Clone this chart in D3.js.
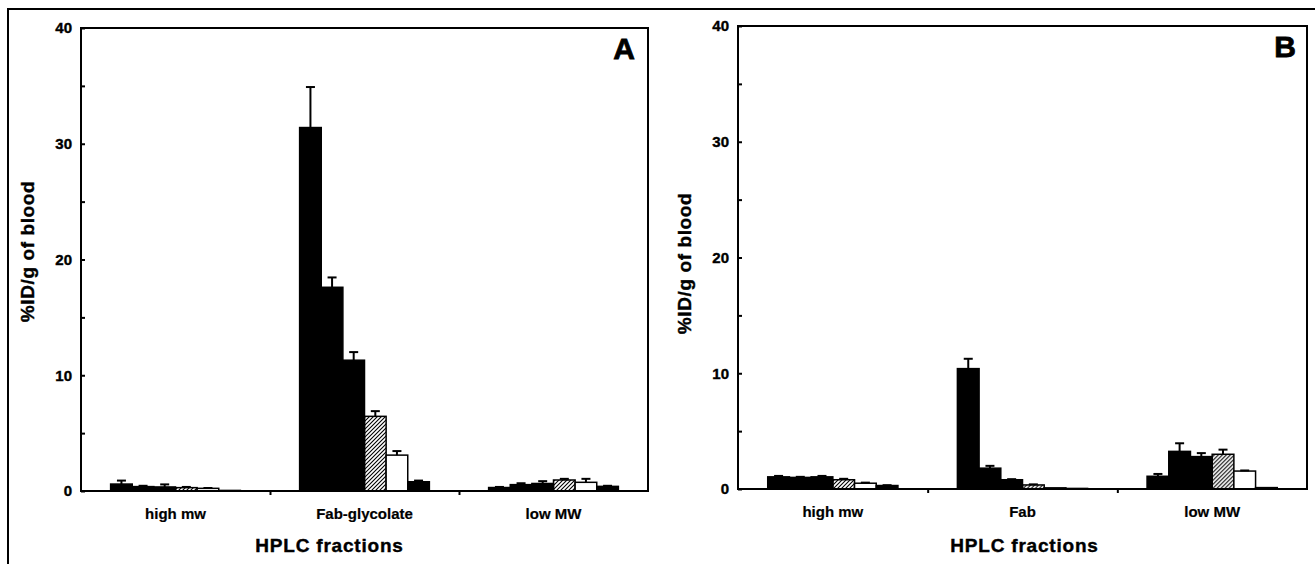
<!DOCTYPE html>
<meta charset="utf-8">
<style>
body { margin: 0; background: #fff; }
svg text { font-family: "Liberation Sans", Arial, sans-serif; fill: #000; stroke: #000; stroke-width: 0.4px; }
.axis path, .axis line { fill: none; stroke: #000; stroke-width: 2px; }
.frame { fill: none; stroke: #000; stroke-width: 2px; }
.bar { stroke: #000; stroke-width: 1.5px; }
.err { stroke: #000; stroke-width: 2px; }
</style>
<body>
<div id="chart"></div>
<script src="https://d3js.org/d3.v7.min.js"></script>
<script>

// six time points per fraction; fill style follows the original print
var series     = ["t1", "t2", "t3", "t4", "t5", "t6"];
var seriesFill = ["black", "black", "black", "hatch", "white", "black"];
var yTicks     = [0, 5, 10, 15, 20, 25, 30, 35, 40];

// panel A
var categoriesA = ["high mw", "Fab-glycolate", "low MW"];
var valuesA = [
  [0.6, 0.38, 0.35, 0.29, 0.23, 0.05],
  [31.4, 17.6, 11.3, 6.45, 3.1, 0.8],
  [0.3, 0.55, 0.65, 0.95, 0.75, 0.4]
];
var errorsA = [
  [0.3, 0.07, 0.22, 0.06, 0.03, 0],
  [3.5, 0.85, 0.7, 0.45, 0.35, 0.1],
  [0.05, 0.12, 0.2, 0.1, 0.3, 0.05]
];

// panel B
var categoriesB = ["high mw", "Fab", "low MW"];
var valuesB = [
  [1.05, 1.0, 1.05, 0.8, 0.5, 0.3],
  [10.4, 1.8, 0.8, 0.35, 0.1, 0.05],
  [1.1, 3.25, 2.8, 3.0, 1.55, 0.12]
];
var errorsB = [
  [0.08, 0.05, 0.08, 0.08, 0.05, 0.03],
  [0.85, 0.2, 0.05, 0.05, 0, 0],
  [0.2, 0.7, 0.3, 0.4, 0.05, 0]
];

var svg = d3.select("#chart").append("svg")
    .attr("width", 1315)
    .attr("height", 564);

svg.append("defs").append("pattern")
    .attr("id", "hatch")
    .attr("patternUnits", "userSpaceOnUse")
    .attr("width", 4).attr("height", 4)
  .append("path")
    .attr("d", "M-1,1 l2,-2 M0,4 l4,-4 M3,5 l2,-2")
    .attr("stroke", "#000")
    .attr("stroke-width", 1.1);

// outer figure border (top and left only)
svg.append("path")
    .attr("class", "frame")
    .attr("d", "M8,564 V9 H1315");

function drawPanel(p) {
  var g = svg.append("g");

  var x0 = d3.scaleBand()
      .domain(p.categories)
      .range([p.left, p.right])
      .padding(0);

  var x1 = d3.scaleBand()
      .domain(series)
      .range([0, x0.bandwidth()])
      .paddingInner(0)
      .paddingOuter(1.37);

  var y = d3.scaleLinear()
      .domain([0, 40])
      .range([p.bottom, p.top]);

  // bars
  p.categories.forEach(function(cat, ci) {
    var grp = g.append("g").attr("transform", "translate(" + x0(cat) + ",0)");

    grp.selectAll(".bar")
        .data(p.values[ci])
        .enter().append("rect")
        .attr("class", "bar")
        .attr("x", (d, i) => x1(series[i]))
        .attr("y", d => y(d))
        .attr("width", x1.bandwidth())
        .attr("height", d => y(0) - y(d))
        .attr("fill", (d, i) => seriesFill[i] == "hatch" ? "url(#hatch)" : seriesFill[i]);

    // error bars (upper only)
    p.values[ci].forEach(function(v, i) {
      var e = p.errors[ci][i];
      if (!e) return;
      var cx = x1(series[i]) + x1.bandwidth() / 2;
      grp.append("line").attr("class", "err")
          .attr("x1", cx).attr("x2", cx)
          .attr("y1", y(v)).attr("y2", y(v + e));
      grp.append("line").attr("class", "err")
          .attr("x1", cx - 4.5).attr("x2", cx + 4.5)
          .attr("y1", y(v + e)).attr("y2", y(v + e));
    });
  });

  // plot frame
  g.append("rect")
      .attr("class", "frame")
      .attr("x", p.left).attr("y", p.top)
      .attr("width", p.right - p.left)
      .attr("height", p.bottom - p.top);

  // y axis, ticks pointing inward
  g.append("g")
      .attr("class", "axis")
      .attr("transform", "translate(" + p.left + ",0)")
      .call(d3.axisLeft(y)
          .tickValues(yTicks)
          .tickSize(-4)
          .tickPadding(9)
          .tickFormat(d => d % 10 ? "" : d))
      .call(a => a.select(".domain").remove())
      .selectAll("text")
      .style("font-size", "15px")
      .style("font-weight", "bold");

  // category labels
  g.append("g")
      .attr("class", "axis")
      .attr("transform", "translate(0," + p.bottom + ")")
      .call(d3.axisBottom(x0).tickSize(0).tickPadding(17))
      .call(a => a.select(".domain").remove())
      .selectAll("text")
      .style("font-size", "15px")
      .style("font-weight", "bold")
      .style("stroke-width", "0.2px");

  // small ticks between fractions
  var xb = d3.scaleLinear().domain([0, 3]).range([p.left, p.right]);
  g.append("g")
      .attr("class", "axis")
      .attr("transform", "translate(0," + p.bottom + ")")
      .call(d3.axisBottom(xb).tickValues([1, 2]).tickSize(4).tickFormat(""))
      .call(a => a.select(".domain").remove());

  // axis titles
  g.append("text")
      .attr("transform", "translate(" + (p.left - 47) + "," + ((p.top + p.bottom) / 2 + p.yTitleShift) + ") rotate(-90)")
      .attr("text-anchor", "middle")
      .style("font-size", "19px")
      .style("font-weight", "bold")
      .style("letter-spacing", "0.6px")
      .text("%ID/g of blood");

  g.append("text")
      .attr("x", (p.left + p.right) / 2 + p.xTitleShift)
      .attr("y", 552)
      .attr("text-anchor", "middle")
      .style("font-size", "19px")
      .style("font-weight", "bold")
      .style("letter-spacing", "0.8px")
      .text("HPLC fractions");

  // panel letter
  g.append("text")
      .attr("x", p.right - p.letterInset)
      .attr("y", p.top + 31)
      .attr("text-anchor", "end")
      .style("font-size", "30px")
      .style("font-weight", "bold")
      .style("stroke-width", "0.8px")
      .text(p.letter);
}

drawPanel({
  left: 81, right: 648, top: 28, bottom: 491,
  categories: categoriesA, values: valuesA, errors: errorsA,
  letter: "A", letterInset: 13, xTitleShift: -35, yTitleShift: -8
});

drawPanel({
  left: 738, right: 1307, top: 26, bottom: 489,
  categories: categoriesB, values: valuesB, errors: errorsB,
  letter: "B", letterInset: 11, xTitleShift: 2, yTitleShift: 6
});

</script>
